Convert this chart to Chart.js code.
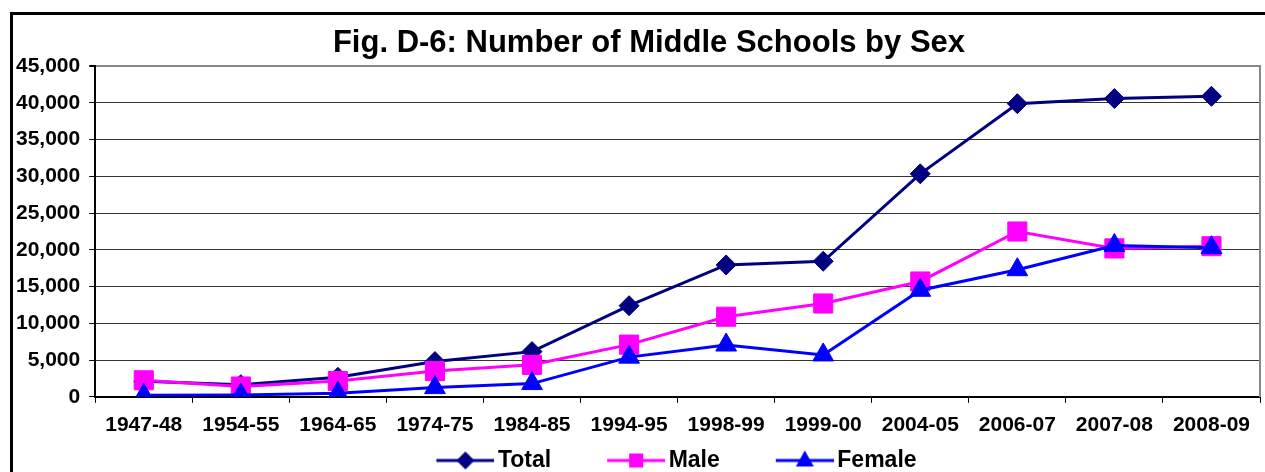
<!DOCTYPE html>
<html>
<head>
<meta charset="utf-8">
<title>Fig. D-6</title>
<script src="https://cdn.jsdelivr.net/npm/chart.js@4.4.1/dist/chart.umd.min.js"></script>
<style>
    body { margin: 0; background: #fff; overflow: hidden; }
    #moldura { position: absolute; left: 10px; top: 12px; width: 1300px; height: 520px; border: 3px solid #000; }
    #grafLinhas { position: absolute; left: 0; top: 0; }
</style>
</head>
<body>
<div id="moldura">
    <canvas id="grafLinhas" width="1278" height="474"></canvas>
</div>
<script>
const vetAnos = ['1947-48', '1954-55', '1964-65', '1974-75', '1984-85', '1994-95',
                 '1998-99', '1999-00', '2004-05', '2006-07', '2007-08', '2008-09']
const vetTotal = [2100, 1650, 2650, 4800, 6150, 12400, 17950, 18450, 30350, 39900, 40600, 40900]
const vetMasc  = [2250, 1400, 2150, 3500, 4350, 7100, 10900, 12700, 15700, 22500, 20200, 20500]
const vetFem   = [200, 250, 500, 1250, 1800, 5400, 7050, 5700, 14500, 17300, 20600, 20300]
const vetTicksY = [0, 5000, 10000, 15000, 20000, 25000, 30000, 35000, 40000, 45000]

const fonte = "'Liberation Sans', Arial, sans-serif"
const grafLinhas = document.getElementById('grafLinhas')

// legend icon: line with the marker in the middle (transparent space on the left)
function iconeLegenda(cor, tipo) {
    const c = document.createElement('canvas')
    c.width = 121
    c.height = 26
    const g = c.getContext('2d')
    const cx = c.width - 29, cy = 13
    g.strokeStyle = cor
    g.fillStyle = cor
    g.lineWidth = 3
    g.beginPath()
    g.moveTo(c.width - 58, cy)
    g.lineTo(c.width, cy)
    g.stroke()
    g.beginPath()
    if (tipo === 'rectRot') {
        g.moveTo(cx, cy - 9); g.lineTo(cx + 9, cy); g.lineTo(cx, cy + 9); g.lineTo(cx - 9, cy)
    } else if (tipo === 'rect') {
        g.rect(cx - 7, cy - 7, 14, 14)
    } else {
        g.moveTo(cx, cy - 10); g.lineTo(cx + 9, cy + 6); g.lineTo(cx - 9, cy + 6)
    }
    g.closePath()
    g.fill()
    return c
}

const series = [
    { nome: 'Total',  dados: vetTotal, cor: '#000080', ponto: 'rectRot',  raio: 10, ordem: 3 },
    { nome: 'Male',   dados: vetMasc,  cor: '#FF00FF', ponto: 'rect',     raio: 13.5, ordem: 2 },
    { nome: 'Female', dados: vetFem,   cor: '#0000FF', ponto: 'triangle', raio: 12, ordem: 1 }
]

new Chart(grafLinhas, {
    type: 'line',
    data: {
        labels: vetAnos,
        datasets: series.map(s => ({
            label: s.nome,
            data: s.dados,
            borderColor: s.cor,
            backgroundColor: s.cor,
            borderWidth: 3,
            pointStyle: s.ponto,
            pointRadius: s.raio,
            pointBorderWidth: 1,
            pointBackgroundColor: s.cor,
            pointBorderColor: s.cor,
            tension: 0,
            order: s.ordem
        }))
    },
    options: {
        responsive: false,
        animation: false,
        layout: { padding: { left: -6, right: 0, top: 0, bottom: 7 } },
        scales: {
            x: {
                offset: true,
                grid: { offset: true, drawOnChartArea: false, drawTicks: true, tickLength: 6, tickColor: '#000' },
                border: { color: '#000', width: 2 },
                ticks: { color: '#000', padding: 10, maxRotation: 0, autoSkip: false, font: { family: fonte, size: 21, weight: 'bold' } }
            },
            y: {
                min: 0,
                max: 45000,
                afterBuildTicks: (eixo) => { eixo.ticks = vetTicksY.map(v => ({ value: v })) },
                grid: {
                    color: (c) => c.tick && c.tick.value === 45000 ? '#888' : '#333',
                    lineWidth: (c) => c.tick && c.tick.value === 45000 ? 2 : 1,
                    tickLength: 6,
                    tickColor: '#000'
                },
                border: { color: '#000', width: 2 },
                ticks: { color: '#000', padding: 9, font: { family: fonte, size: 21, weight: 'bold' } }
            },
            y2: {
                position: 'right',
                grid: { drawOnChartArea: false, drawTicks: true, tickLength: 31, color: 'rgba(0,0,0,0)' },
                border: { color: '#888', width: 2 },
                ticks: { display: false }
            }
        },
        plugins: {
            title: {
                display: true,
                text: 'Fig. D-6: Number of Middle Schools by Sex',
                color: '#000',
                padding: { top: 10, bottom: 4 },
                font: { family: fonte, size: 31, weight: 'bold' }
            },
            legend: {
                position: 'bottom',
                labels: {
                    usePointStyle: true,
                    pointStyleWidth: 105,
                    padding: 1,
                    color: '#000',
                    font: { family: fonte, size: 23, weight: 'bold' },
                    generateLabels: () => series.map((s, i) => ({
                        text: s.nome,
                        pointStyle: iconeLegenda(s.cor, s.ponto),
                        fillStyle: s.cor,
                        strokeStyle: s.cor,
                        lineWidth: 0,
                        fontColor: '#000',
                        hidden: false,
                        datasetIndex: i
                    }))
                }
            },
            tooltip: { enabled: false }
        }
    }
})
</script>
</body>
</html>
